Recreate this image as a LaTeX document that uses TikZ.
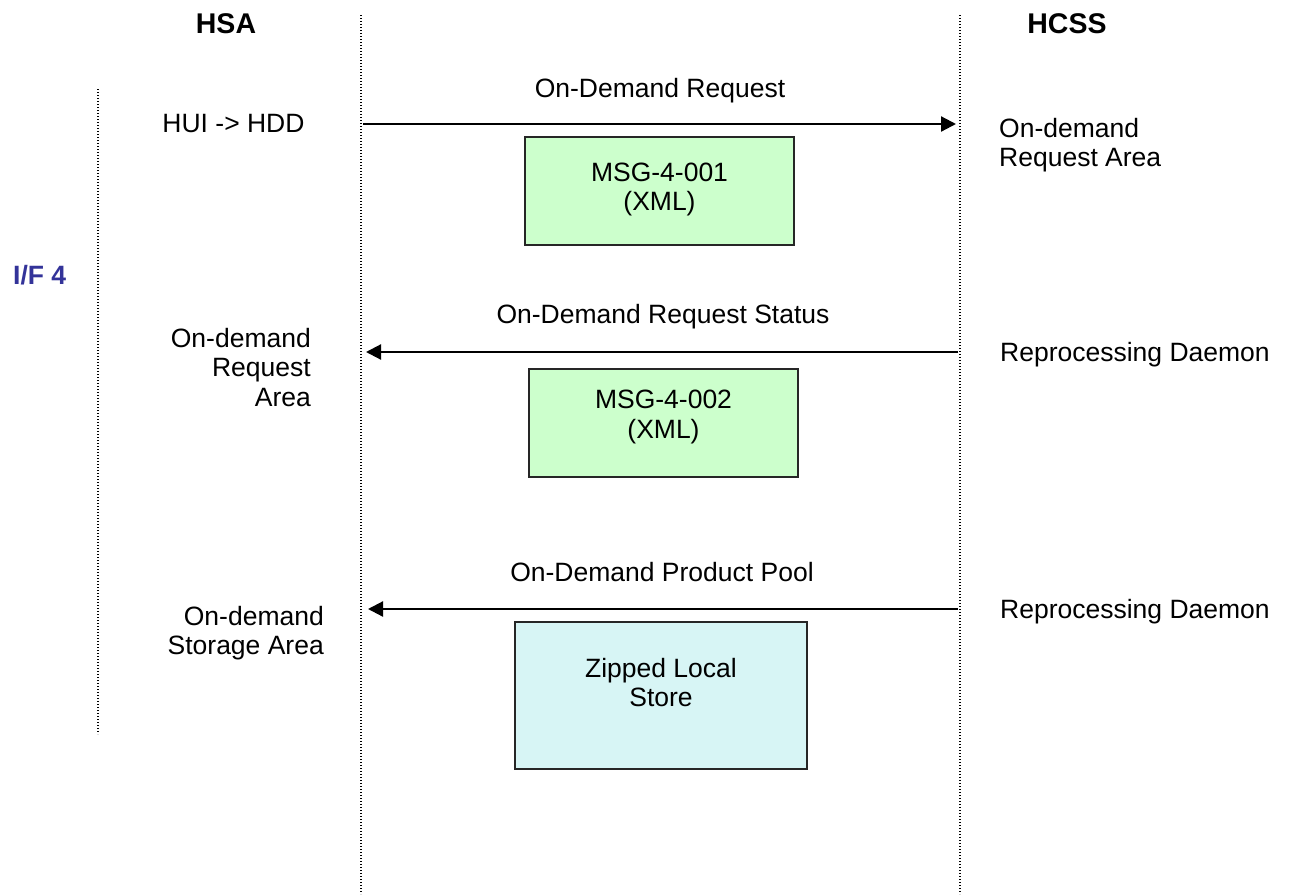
\documentclass[tikz,border=0pt]{standalone}
\usepackage{fontspec}
\setmainfont{Liberation Sans}
\usetikzlibrary{arrows.meta}
\definecolor{msggreen}{RGB}{204,255,204}
\definecolor{storecyan}{RGB}{215,245,245}
\definecolor{ifblue}{RGB}{51,51,153}
\begin{document}
\begin{tikzpicture}[x=1pt,y=-1pt,
  every node/.style={font=\fontsize{26.5}{29.5}\selectfont, inner sep=0pt},
  head/.style={font=\fontsize{28.5}{32}\selectfont\bfseries, anchor=base},
  plain/.style={anchor=base},
  leftlbl/.style={anchor=north east, align=right},
  rightlbl/.style={anchor=north west, align=left},
  lifeline/.style={line width=1.6pt, dash pattern=on 1.3pt off 1.7pt},
  msg/.style={line width=2.2pt, -{Triangle[length=15pt,width=15pt]}},
  msgbox/.style={draw=black!85, line width=1.6pt, fill=msggreen},
  storebox/.style={draw=black!85, line width=1.6pt, fill=storecyan},
  boxtext/.style={align=center}]
\useasboundingbox (0,0) rectangle (1290,894);

% lifelines
\coordinate (ifTop) at (98,89);
\coordinate (ifBot) at (98,734);
\coordinate (hsaTop) at (361,15);
\coordinate (hsaBot) at (361,894);
\coordinate (hcssTop) at (960,15);
\coordinate (hcssBot) at (960,894);
\draw[lifeline] (ifTop) -- (ifBot);
\draw[lifeline] (hsaTop) -- (hsaBot);
\draw[lifeline] (hcssTop) -- (hcssBot);

% headings
\node[head] (hsa) at (226,33) {HSA};
\node[head] (hcss) at (1067,33) {HCSS};
\node[head, anchor=base west, text=ifblue, font=\fontsize{26.5}{29.5}\selectfont\bfseries] (if4) at (13,284) {I/F 4};

% message 1: request
\node[plain] (hui) at (233.5,132) {HUI -> HDD};
\node[plain] (m1lbl) at (660,97) {On-Demand Request};
\coordinate (m1s) at (363,124);
\coordinate (m1e) at (956,124);
\draw[msg] (m1s) -- (m1e);
\node[rightlbl] (m1dst) at (999,118) {On-demand\\Request Area};
\node[msgbox, minimum width=269pt, minimum height=108pt] (b1) at (659.5,191) {};
\node[boxtext] (b1t) at ([yshift=1.5pt]b1.center) {MSG-4-001\\(XML)};

% message 2: request status
\node[plain] (m2lbl) at (663,323) {On-Demand Request Status};
\coordinate (m2s) at (958,352);
\coordinate (m2e) at (366,352);
\draw[msg] (m2s) -- (m2e);
\node[leftlbl] (m2dst) at (311,328) {On-demand\\Request\\Area};
\node[plain, anchor=base west] (m2src) at (1000,361) {Reprocessing Daemon};
\node[msgbox, minimum width=269pt, minimum height=108pt] (b2) at (663.5,423) {};
\node[boxtext] (b2t) at ([yshift=6pt]b2.center) {MSG-4-002\\(XML)};

% message 3: product pool
\node[plain] (m3lbl) at (662,581) {On-Demand Product Pool};
\coordinate (m3s) at (958,609);
\coordinate (m3e) at (368,609);
\draw[msg] (m3s) -- (m3e);
\node[leftlbl] (m3dst) at (324,606) {On-demand\\Storage Area};
\node[plain, anchor=base west] (m3src) at (1000,618) {Reprocessing Daemon};
\node[storebox, minimum width=292pt, minimum height=147pt] (b3) at (661,695.5) {};
\node[boxtext] (b3t) at ([yshift=13pt]b3.center) {Zipped Local\\Store};
\end{tikzpicture}
\end{document}
